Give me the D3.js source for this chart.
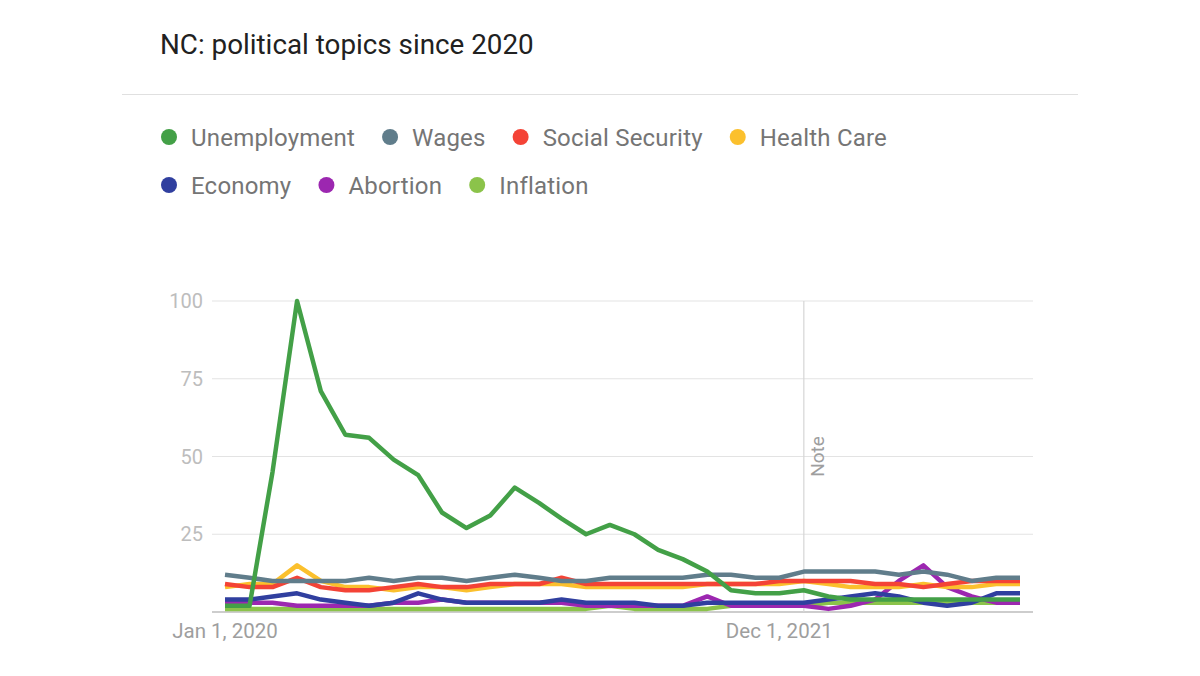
<!DOCTYPE html>
<html>
<head>
<meta charset="utf-8">
<script src="https://cdn.jsdelivr.net/npm/d3@7"></script>
<style>
  body { margin: 0; background: #fff; font-family: Roboto, "Noto Sans", sans-serif; }
</style>
</head>
<body>
<div id="chart"></div>
<script>
let w = 1200, h = 676

// monthly points, Jan 2020 .. Oct 2022
let months = d3.range(34).map(i => new Date(2020, i, 1))

let seriesNames = ["Unemployment", "Wages", "Social Security", "Health Care", "Economy", "Abortion", "Inflation"]
let colors = ["#43a047", "#607d8b", "#f44336", "#fbc02d", "#303f9f", "#9c27b0", "#8bc34a"]

let unemployment = [2, 2, 45, 100, 71, 57, 56, 49, 44, 32, 27, 31, 40, 35, 30, 25, 28, 25, 20, 17, 13, 7, 6, 6, 7, 5, 4, 4, 4, 4, 4, 4, 4, 4]
let wages = [12, 11, 10, 10, 10, 10, 11, 10, 11, 11, 10, 11, 12, 11, 10, 10, 11, 11, 11, 11, 12, 12, 11, 11, 13, 13, 13, 13, 12, 13, 12, 10, 11, 11]
let socialSecurity = [9, 8, 8, 11, 8, 7, 7, 8, 9, 8, 8, 9, 9, 9, 11, 9, 9, 9, 9, 9, 9, 9, 9, 10, 10, 10, 10, 9, 9, 8, 9, 10, 10, 10]
let healthCare = [8, 9, 9, 15, 10, 8, 8, 7, 8, 8, 7, 8, 9, 9, 9, 8, 8, 8, 8, 8, 9, 9, 9, 9, 10, 9, 8, 8, 8, 9, 8, 8, 9, 9]
let economy = [4, 4, 5, 6, 4, 3, 2, 3, 6, 4, 3, 3, 3, 3, 4, 3, 3, 3, 2, 2, 3, 3, 3, 3, 3, 4, 5, 6, 5, 3, 2, 3, 6, 6]
let abortion = [3, 3, 3, 2, 2, 2, 2, 3, 3, 4, 3, 3, 3, 3, 3, 2, 2, 2, 2, 2, 5, 2, 2, 2, 2, 1, 2, 4, 10, 15, 8, 5, 3, 3]
let inflation = [1, 1, 1, 1, 1, 1, 1, 1, 1, 1, 1, 1, 1, 1, 1, 1, 2, 1, 1, 1, 1, 2, 2, 2, 2, 3, 3, 3, 3, 3, 3, 3, 3, 3]

let seriesValues = [unemployment, wages, socialSecurity, healthCare, economy, abortion, inflation]

let yTicks = [0, 25, 50, 75, 100]
let xTicks = [new Date(2020, 0, 1), new Date(2021, 11, 1)]
let xTickLabels = ["Jan 1, 2020", "Dec 1, 2021"]
let noteDate = new Date(2022, 0, 1)

let plot = {left: 212, right: 1033, top: 301, bottom: 612}

let svg = d3.select("#chart").append("svg")
	.attr("width", w)
	.attr("height", h)

// title + divider
svg.append("text")
	.attr("x", 160)
	.attr("y", 54)
	.attr("font-size", 27.8)
	.attr("fill", "#212121")
	.text("NC: political topics since 2020")

svg.append("line")
	.attr("x1", 122).attr("x2", 1078)
	.attr("y1", 94.5).attr("y2", 94.5)
	.attr("stroke", "#e0e0e0")

// legend, two rows, laid out by measured text width
let legendRows = [[0, 1, 2, 3], [4, 5, 6]]
legendRows.forEach((row, r) => {
	let cx = 169, cy = 137 + r * 48
	row.forEach(i => {
		svg.append("circle")
			.attr("cx", cx).attr("cy", cy)
			.attr("r", 8)
			.attr("fill", colors[i])
		let t = svg.append("text")
			.attr("x", cx + 22)
			.attr("y", cy + 8.5)
			.attr("font-size", 24)
			.attr("letter-spacing", 0.2)
			.attr("fill", "#757575")
			.text(seriesNames[i])
		cx += 22 + t.node().getComputedTextLength() + 35
	})
})

// scales
let x = d3.scaleTime()
	.domain([months[0], months[months.length - 1]])
	.range([225, 1020])

let y = d3.scaleLinear()
	.domain([0, 100])
	.range([plot.bottom, plot.top])

// gridlines
svg.append("g")
	.selectAll("line")
	.data(yTicks)
	.enter()
	.append("line")
	.attr("x1", plot.left).attr("x2", plot.right)
	.attr("y1", d => y(d)).attr("y2", d => y(d))
	.attr("stroke", d => d === 0 ? "#bdbdbd" : "#e3e3e3")
	.attr("stroke-width", d => d === 0 ? 1.5 : 1.2)

// y labels (zero not shown)
svg.append("g")
	.selectAll("text")
	.data(yTicks.filter(d => d > 0))
	.enter()
	.append("text")
	.attr("x", 203)
	.attr("y", d => y(d) + 7)
	.attr("text-anchor", "end")
	.attr("font-size", 20)
	.attr("fill", "#bdbdbd")
	.text(d => d)

// x labels
svg.append("g")
	.selectAll("text")
	.data(xTicks)
	.enter()
	.append("text")
	.attr("x", d => x(d))
	.attr("y", 638)
	.attr("text-anchor", "middle")
	.attr("font-size", 20.5)
	.attr("fill", "#9e9e9e")
	.text((d, i) => xTickLabels[i])

// note marker
svg.append("line")
	.attr("x1", x(noteDate)).attr("x2", x(noteDate))
	.attr("y1", plot.top).attr("y2", plot.bottom)
	.attr("stroke", "#d6d6d6")
	.attr("stroke-width", 1.2)

svg.append("text")
	.attr("transform", "translate(" + (x(noteDate) + 20) + "," + y(50) + ") rotate(-90)")
	.attr("text-anchor", "middle")
	.attr("font-size", 19)
	.attr("fill", "#9e9e9e")
	.text("Note")

// lines, first series on top
let line = d3.line()
	.x((d, i) => x(months[i]))
	.y(d => y(d))

svg.append("g")
	.selectAll("path")
	.data(seriesValues.map((v, i) => ({values: v, color: colors[i]})).reverse())
	.enter()
	.append("path")
	.attr("d", d => line(d.values))
	.attr("fill", "none")
	.attr("stroke", d => d.color)
	.attr("stroke-width", 4.5)
	.attr("stroke-linejoin", "round")
</script>
</body>
</html>
